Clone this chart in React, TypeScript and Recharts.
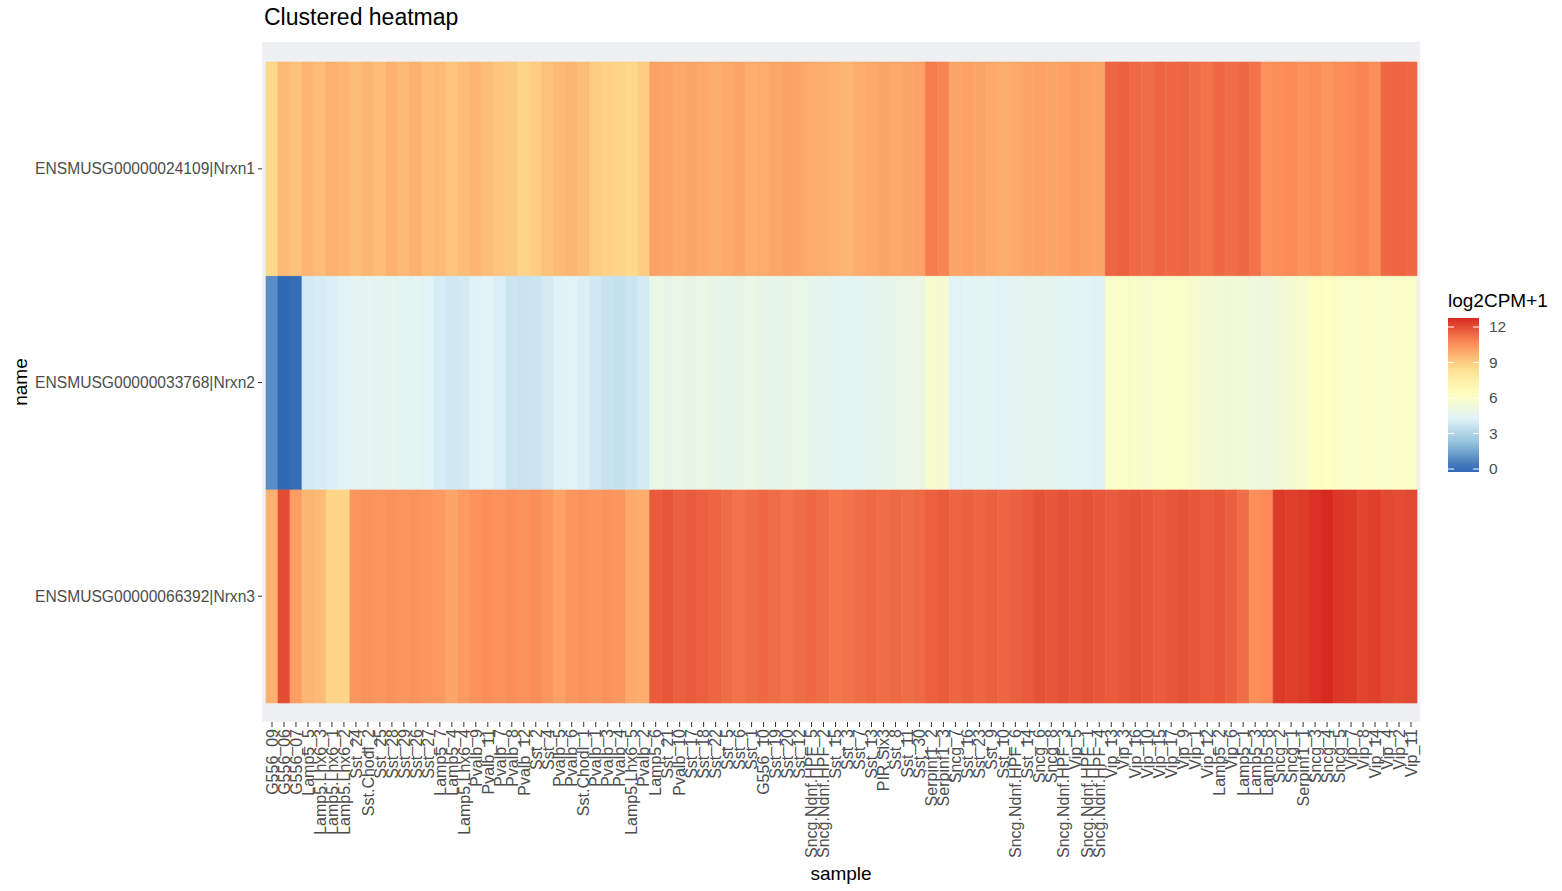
import React from "react";
import { BarChart, Bar, XAxis, YAxis, Cell, CartesianGrid } from "recharts";

// samples in clustered order (left to right)
const samples = [
  "G556_09", "G556_06", "G556_07", "Lamp5_5", "Lamp5.Lhx6_3", "Lamp5.Lhx6_1", "Lamp5.Lhx6_2", "Sst_24",
  "Sst.Chodl_2", "Sst_25", "Sst_28", "Sst_29", "Sst_26", "Sst_27", "Lamp5_7", "Lamp5_4",
  "Lamp5.Lhx6_4", "Pvalb_9", "Pvalb_11", "Pvalb_7", "Pvalb_8", "Pvalb_12", "Sst_2", "Sst_4",
  "Pvalb_5", "Pvalb_6", "Sst.Chodl_1", "Pvalb_1", "Pvalb_3", "Pvalb_4", "Lamp5.Lhx6_5", "Pvalb_2",
  "Lamp5_6", "Sst_21", "Pvalb_10", "Sst_17", "Sst_18", "Sst_22", "Sst_5", "Sst_6",
  "Sst_1", "G556_10", "Sst_19", "Sst_20", "Sst_12", "Sncg.Ndnf.HPF_5", "Sncg.Ndnf.HPF_2", "Sst_15",
  "Sst_3", "Sst_7", "Sst_13", "PIR.Six3", "Sst_8", "Sst_11", "Sst_30", "Serpinf1_2",
  "Serpinf1_3", "Sncg_7", "Sst_16", "Sst_23", "Sst_9", "Sst_10", "Sncg.Ndnf.HPF_6", "Sst_14",
  "Sncg_6", "Sncg_8", "Sncg.Ndnf.HPF_3", "Vip_5", "Sncg.Ndnf.HPF_1", "Sncg.Ndnf.HPF_4", "Vip_13", "Vip_3",
  "Vip_16", "Vip_10", "Vip_15", "Vip_17", "Vip_9", "Vip_1", "Vip_12", "Lamp5_2",
  "Vip_6", "Lamp5_1", "Lamp5_3", "Lamp5_8", "Sncg_2", "Sncg_1", "Serpinf1_1", "Sncg_3",
  "Sncg_4", "Sncg_5", "Vip_7", "Vip_8", "Vip_14", "Vip_4", "Vip_2", "Vip_11",
];

// genes, bottom row first
const genes = [
  "ENSMUSG00000066392|Nrxn3",
  "ENSMUSG00000033768|Nrxn2",
  "ENSMUSG00000024109|Nrxn1",
];

// log2CPM+1 per sample
const nrxn1 = [
  8.7, 9.5, 9.3, 9.6, 9.4, 9.7, 9.6, 9.4, 9.6, 9.4, 9.7, 9.5, 9.7, 9.4, 9.5, 9.2,
  9.4, 9.6, 9.4, 9.2, 9.1, 8.8, 9.0, 9.3, 9.5, 9.6, 9.4, 9.0, 8.9, 8.8, 8.7, 9.0,
  10.1, 10.0, 9.9, 10.0, 9.9, 9.8, 9.9, 10.0, 9.8, 9.9, 10.0, 10.1, 10.0, 9.9, 9.8, 9.7,
  9.6, 9.8, 9.9, 10.0, 9.9, 10.0, 10.1, 11.0, 10.8, 10.0, 10.1, 10.0, 9.9, 9.8, 9.9, 10.0,
  10.1, 10.0, 10.1, 10.2, 10.1, 10.0, 11.5, 11.6, 11.4, 11.3, 11.5, 11.4, 11.5, 11.3,
  11.2, 11.4, 11.3, 11.4, 11.2, 10.5, 10.6, 10.7, 10.5, 10.6, 10.4, 10.6, 10.7, 10.8,
  10.6, 11.4, 11.5, 11.4,
];

const nrxn2 = [
  0.9, 0.0, 0.1, 3.9, 4.0, 4.1, 4.3, 4.5, 4.6, 4.5, 4.6, 4.4, 4.5, 4.3, 4.0, 3.8,
  3.9, 4.2, 4.3, 4.1, 3.7, 3.6, 3.7, 3.9, 4.2, 4.3, 4.1, 3.8, 3.6, 3.5, 3.7, 3.9,
  4.9, 4.8, 4.9, 4.8, 4.9, 4.8, 4.7, 4.8, 4.9, 4.8, 4.7, 4.8, 4.9, 4.7, 4.6, 4.5,
  4.4, 4.5, 4.6, 4.7, 4.8, 4.9, 5.0, 5.8, 5.7, 4.3, 4.4, 4.5, 4.4, 4.3, 4.5, 4.6,
  4.7, 4.6, 4.5, 4.4, 4.3, 4.2, 6.0, 6.1, 6.0, 5.9, 6.0, 6.1, 6.0, 5.8,
  5.6, 5.5, 5.4, 5.5, 5.3, 5.2, 5.4, 5.6, 5.8, 6.2, 6.3, 6.1, 6.0, 6.1,
  6.0, 6.0, 6.1, 6.0,
];

const nrxn3 = [
  9.7, 12.0, 10.2, 9.6, 9.5, 8.8, 8.8, 10.4, 10.5, 10.4, 10.5, 10.4, 10.5, 10.4, 10.3, 10.0,
  10.3, 10.5, 10.6, 10.5, 10.6, 10.5, 10.6, 10.4, 10.1, 10.4, 10.5, 10.4, 10.5, 10.4, 9.9, 9.8,
  11.7, 11.8, 11.6, 11.7, 11.6, 11.5, 11.3, 11.2, 11.3, 11.4, 11.3, 11.2, 11.3, 11.4, 11.3, 11.1,
  11.2, 11.3, 11.4, 11.3, 11.4, 11.3, 11.4, 11.6, 11.7, 11.5, 11.6, 11.5, 11.6, 11.5, 11.6, 11.7,
  11.9, 11.8, 11.9, 11.8, 11.9, 11.8, 11.7, 11.8, 11.9, 11.8, 11.7, 11.8, 11.9, 11.8,
  11.7, 11.8, 11.6, 11.3, 10.6, 10.7, 12.4, 12.3, 12.4, 12.6, 12.76, 12.5, 12.4, 12.2,
  12.3, 12.1, 12.0, 12.1,
];

const legendBreaks = [0, 3, 6, 9, 12];
const fillMin = 0;
const fillMax = 12.76;

// RdYlBu, low = blue
const palette = ["#3169b4", "#91bfdb", "#e0f3f8", "#ffffbf", "#fee090", "#fc8d59", "#d72a20"];

const hexToRgb = (h: string) => [1, 3, 5].map((i) => parseInt(h.slice(i, i + 2), 16));

const fillColor = (v: number) => {
  let t = (v - fillMin) / (fillMax - fillMin);
  t = Math.max(0, Math.min(1, t));
  const pos = t * (palette.length - 1);
  const i = Math.min(Math.floor(pos), palette.length - 2);
  const f = pos - i;
  const a = hexToRgb(palette[i]);
  const b = hexToRgb(palette[i + 1]);
  const c = a.map((x, k) => Math.round(x + (b[k] - x) * f));
  return `rgb(${c[0]},${c[1]},${c[2]})`;
};

const rows = [nrxn3, nrxn2, nrxn1];
const data = samples.map((s) => ({ sample: s, r3: 1, r2: 1, r1: 1 }));

const font = "'Liberation Sans', Arial, Helvetica, sans-serif";

const SampleTick = (props: any) => {
  const { x, y, payload } = props;
  return (
    <text
      x={x}
      y={y}
      transform={`rotate(-90, ${x}, ${y})`}
      textAnchor="end"
      dy="0.36em"
      fontSize={16}
      fill="#4d4d4d"
      fontFamily={font}
    >
      {payload.value}
    </text>
  );
};

// colourbar geometry
const barX = 1448;
const barW = 31;
const barTop = 318;
const barBottom = 472;
const barLow = -0.25;
const barHigh = 12.76;
const barY = (v: number) => barBottom - ((v - barLow) / (barHigh - barLow)) * (barBottom - barTop);

const ColourBar = () => {
  const stops = Array.from({ length: 21 }, (_, k) => barLow + ((barHigh - barLow) * k) / 20);
  return (
    <svg width={1562} height={891} style={{ position: "absolute", left: 0, top: 0, pointerEvents: "none" }}>
      <defs>
        <linearGradient id="fillbar" x1="0" y1="1" x2="0" y2="0">
          {stops.map((v, k) => (
            <stop key={k} offset={k / 20} stopColor={fillColor(v)} />
          ))}
        </linearGradient>
      </defs>
      <text x={barX} y={307} fontSize={19} fontFamily={font} fill="#000">
        log2CPM+1
      </text>
      <rect x={barX} y={barTop} width={barW} height={barBottom - barTop} fill="url(#fillbar)" />
      {legendBreaks.map((b) => (
        <g key={b}>
          <line x1={barX} x2={barX + 6} y1={barY(b)} y2={barY(b)} stroke="#fff" strokeWidth={1} />
          <line x1={barX + barW - 6} x2={barX + barW} y1={barY(b)} y2={barY(b)} stroke="#fff" strokeWidth={1} />
          <text x={1489} y={barY(b)} dy="0.35em" fontSize={15.5} fontFamily={font} fill="#4d4d4d">
            {b}
          </text>
        </g>
      ))}
      <text x={264} y={25} fontSize={23} fontFamily={font} fill="#000">
        Clustered heatmap
      </text>
      <text x={841} y={880} textAnchor="middle" fontSize={19} fontFamily={font} fill="#000">
        sample
      </text>
      <text
        x={27}
        y={382}
        transform="rotate(-90, 27, 382)"
        textAnchor="middle"
        fontSize={19}
        fontFamily={font}
        fill="#000"
      >
        name
      </text>
    </svg>
  );
};

export default function App() {
  return (
    <div style={{ position: "absolute", left: 0, top: 0, width: 1562, height: 891, background: "#fff" }}>
      <BarChart
        width={1562}
        height={891}
        data={data}
        margin={{ top: 42, right: 142, bottom: 0, left: 0 }}
        barCategoryGap={0}
        barGap={0}
      >
        <CartesianGrid horizontal={false} vertical={false} fill="#eef0f3" />
        <XAxis
          dataKey="sample"
          type="category"
          interval={0}
          height={169}
          padding={{ left: 4, right: 3 }}
          axisLine={false}
          tickLine={{ stroke: "#333" }}
          tickSize={5}
          tickMargin={2}
          tick={<SampleTick />}
        />
        <YAxis
          type="number"
          width={262}
          domain={[-0.0889, 3.0936]}
          allowDataOverflow
          ticks={[0.5, 1.5, 2.5]}
          tickFormatter={(v: number) => genes[Math.floor(v)]}
          axisLine={false}
          tickLine={{ stroke: "#333" }}
          tickSize={4}
          tickMargin={3}
          tick={{ fontSize: 15.6, fill: "#4d4d4d", fontFamily: font }}
        />
        {["r3", "r2", "r1"].map((key, r) => (
          <Bar key={key} dataKey={key} stackId="tiles" isAnimationActive={false}>
            {samples.map((s, i) => (
              <Cell key={s} fill={fillColor(rows[r][i])} stroke={fillColor(rows[r][i])} strokeWidth={0.6} />
            ))}
          </Bar>
        ))}
      </BarChart>
      <ColourBar />
    </div>
  );
}
